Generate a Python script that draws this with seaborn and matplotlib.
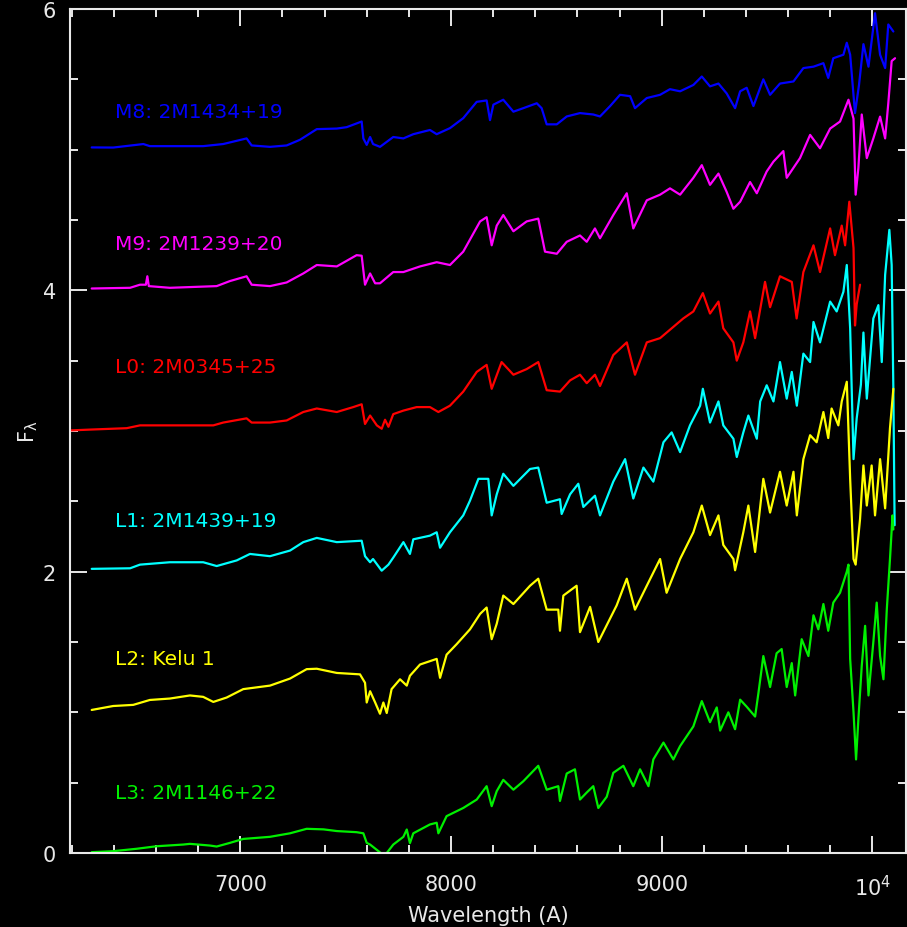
import numpy as np
import pandas as pd
import matplotlib
matplotlib.use("Agg")
import matplotlib.pyplot as plt
import seaborn as sns
from matplotlib.ticker import MultipleLocator, FixedLocator, FixedFormatter

# ---------------- data ----------------
names = ["M8: 2M1434+19", "M9: 2M1239+20", "L0: 2M0345+25",
         "L1: 2M1439+19", "L2: Kelu 1", "L3: 2M1146+22"]
colors = ["#0000ff", "#ff00ff", "#ff0000", "#00ffff", "#ffff00", "#00f000"]
label_y = [5.27, 4.335, 3.46, 2.363, 1.383, 0.429]
label_x = 6405

m8_wave = [6295, 6397, 6540, 6571, 6824, 6919, 7030, 7054, 7141, 7220, 7283, 7363,
           7458, 7505, 7576, 7584, 7600, 7616, 7630, 7663, 7726, 7774, 7821, 7900,
           7932, 7995, 8058, 8122, 8169, 8185, 8201, 8248, 8296, 8343, 8407, 8430,
           8454, 8502, 8549, 8612, 8675, 8707, 8755, 8802, 8850, 8873, 8929, 8992,
           9039, 9087, 9150, 9190, 9229, 9269, 9308, 9348, 9372, 9403, 9435, 9482,
           9514, 9561, 9625, 9672, 9720, 9767, 9790, 9814, 9862, 9878, 9894, 9917,
           9936, 9957, 9981, 10012, 10036, 10060, 10075, 10099]
m8_flux = [5.016, 5.015, 5.04, 5.025, 5.025, 5.04, 5.08, 5.03, 5.02, 5.03, 5.07, 5.146,
           5.15, 5.16, 5.20, 5.08, 5.034, 5.09, 5.04, 5.02, 5.09, 5.08, 5.11, 5.14,
           5.11, 5.153, 5.224, 5.34, 5.35, 5.21, 5.32, 5.355, 5.27, 5.295, 5.33, 5.295,
           5.18, 5.18, 5.236, 5.26, 5.25, 5.236, 5.31, 5.39, 5.38, 5.295, 5.367, 5.39,
           5.43, 5.415, 5.46, 5.52, 5.45, 5.47, 5.40, 5.295, 5.415, 5.44, 5.31, 5.50,
           5.39, 5.47, 5.485, 5.58, 5.59, 5.615, 5.51, 5.65, 5.675, 5.76, 5.675, 5.26,
           5.46, 5.75, 5.59, 5.97, 5.675, 5.58, 5.89, 5.84]

m9_wave = [6295, 6477, 6524, 6552, 6559, 6566, 6666, 6888, 6951, 7030, 7054, 7141,
           7220, 7299, 7363, 7458, 7552, 7576, 7592, 7616, 7640, 7663, 7726, 7774,
           7853, 7932, 7995, 8058, 8138, 8169, 8193, 8217, 8248, 8296, 8359, 8414,
           8446, 8502, 8549, 8612, 8644, 8683, 8707, 8770, 8834, 8865, 8929, 8992,
           9039, 9087, 9150, 9190, 9229, 9269, 9308, 9340, 9372, 9419, 9451, 9498,
           9530, 9577, 9593, 9656, 9704, 9751, 9799, 9846, 9886, 9910, 9920, 9933,
           9949, 9973, 10004, 10036, 10060, 10075, 10091, 10107]
m9_flux = [4.013, 4.018, 4.04, 4.04, 4.10, 4.03, 4.018, 4.03, 4.066, 4.10, 4.04, 4.03,
           4.056, 4.12, 4.18, 4.17, 4.25, 4.246, 4.04, 4.12, 4.05, 4.05, 4.13, 4.13,
           4.17, 4.20, 4.18, 4.275, 4.49, 4.52, 4.32, 4.46, 4.535, 4.42, 4.49, 4.51,
           4.275, 4.26, 4.345, 4.39, 4.345, 4.44, 4.37, 4.535, 4.69, 4.44, 4.64, 4.68,
           4.725, 4.68, 4.80, 4.89, 4.75, 4.83, 4.70, 4.58, 4.63, 4.77, 4.69, 4.845,
           4.915, 4.99, 4.80, 4.94, 5.105, 5.01, 5.15, 5.20, 5.355, 5.22, 4.68, 4.87,
           5.25, 4.94, 5.08, 5.235, 5.08, 5.33, 5.63, 5.65]

l0_wave = [6192, 6287, 6461, 6524, 6872, 6919, 7030, 7054, 7141, 7220, 7299, 7363,
           7458, 7536, 7576, 7592, 7616, 7648, 7671, 7687, 7703, 7726, 7774, 7837,
           7900, 7940, 7995, 8058, 8122, 8169, 8193, 8240, 8296, 8359, 8414, 8454,
           8517, 8565, 8612, 8644, 8683, 8707, 8770, 8834, 8873, 8929, 8992, 9047,
           9102, 9150, 9195, 9229, 9269, 9292, 9340, 9356, 9387, 9419, 9443, 9490,
           9514, 9561, 9617, 9640, 9672, 9720, 9751, 9799, 9822, 9854, 9870, 9890,
           9910, 9917, 9925, 9941]
l0_flux = [3.004, 3.01, 3.02, 3.04, 3.04, 3.06, 3.09, 3.06, 3.06, 3.075, 3.135, 3.16,
           3.135, 3.17, 3.19, 3.05, 3.11, 3.04, 3.016, 3.08, 3.03, 3.12, 3.145, 3.17,
           3.17, 3.135, 3.18, 3.28, 3.42, 3.47, 3.30, 3.49, 3.40, 3.44, 3.49, 3.29,
           3.28, 3.36, 3.40, 3.34, 3.40, 3.32, 3.54, 3.63, 3.40, 3.63, 3.66, 3.73,
           3.80, 3.85, 3.98, 3.835, 3.92, 3.73, 3.63, 3.50, 3.63, 3.85, 3.66, 4.06,
           3.88, 4.10, 4.06, 3.80, 4.13, 4.32, 4.13, 4.44, 4.25, 4.46, 4.32, 4.63,
           4.30, 3.75, 3.90, 4.04]

l1_wave = [6295, 6477, 6524, 6666, 6824, 6888, 6983, 7046, 7141, 7236, 7299, 7363,
           7458, 7576, 7592, 7616, 7630, 7671, 7703, 7726, 7774, 7805, 7821, 7900,
           7932, 7948, 7995, 8058, 8090, 8130, 8177, 8193, 8217, 8248, 8296, 8375,
           8414, 8454, 8517, 8525, 8565, 8604, 8628, 8683, 8707, 8770, 8826, 8865,
           8913, 8960, 9008, 9047, 9087, 9134, 9182, 9195, 9229, 9269, 9292, 9340,
           9356, 9387, 9411, 9451, 9467, 9498, 9530, 9561, 9593, 9617, 9641, 9672,
           9704, 9720, 9751, 9799, 9830, 9862, 9878, 9894, 9910, 9925, 9945, 9957,
           9973, 10004, 10028, 10044, 10060, 10080, 10091, 10099, 10105]
l1_flux = [2.02, 2.024, 2.05, 2.067, 2.067, 2.04, 2.08, 2.126, 2.11, 2.15, 2.21, 2.24,
           2.21, 2.22, 2.11, 2.067, 2.09, 2.007, 2.05, 2.10, 2.21, 2.126, 2.23, 2.256,
           2.28, 2.17, 2.28, 2.40, 2.505, 2.66, 2.66, 2.40, 2.55, 2.696, 2.61, 2.73,
           2.74, 2.49, 2.515, 2.41, 2.55, 2.625, 2.46, 2.54, 2.40, 2.64, 2.80, 2.52,
           2.74, 2.64, 2.92, 2.99, 2.85, 3.04, 3.18, 3.30, 3.06, 3.21, 3.04, 2.945,
           2.815, 2.99, 3.11, 2.945, 3.21, 3.325, 3.21, 3.49, 3.23, 3.42, 3.18, 3.55,
           3.49, 3.775, 3.63, 3.92, 3.85, 3.99, 4.18, 3.73, 2.80, 3.09, 3.33, 3.70,
           3.23, 3.80, 3.895, 3.49, 4.11, 4.43, 4.18, 3.30, 2.33]

l2_wave = [6295, 6397, 6492, 6571, 6666, 6761, 6824, 6872, 6935, 7014, 7141, 7236,
           7315, 7363, 7458, 7568, 7592, 7600, 7616, 7640, 7663, 7679, 7695, 7718,
           7758, 7790, 7805, 7853, 7932, 7948, 7979, 8027, 8090, 8138, 8169, 8193,
           8217, 8248, 8296, 8375, 8414, 8454, 8509, 8517, 8533, 8596, 8612, 8660,
           8699, 8739, 8786, 8834, 8873, 8929, 8992, 9023, 9087, 9150, 9190, 9229,
           9269, 9292, 9340, 9348, 9387, 9411, 9443, 9482, 9514, 9561, 9593, 9625,
           9641, 9672, 9704, 9735, 9767, 9790, 9806, 9838, 9854, 9878, 9894, 9910,
           9920, 9941, 9957, 9973, 9996, 10012, 10036, 10060, 10083, 10099]
l2_flux = [1.017, 1.045, 1.053, 1.088, 1.098, 1.12, 1.11, 1.074, 1.105, 1.165, 1.19, 1.24,
           1.307, 1.31, 1.28, 1.27, 1.21, 1.07, 1.15, 1.07, 0.99, 1.07, 0.995, 1.165,
           1.235, 1.19, 1.26, 1.34, 1.38, 1.245, 1.41, 1.485, 1.59, 1.70, 1.745, 1.52,
           1.63, 1.83, 1.77, 1.90, 1.95, 1.73, 1.73, 1.58, 1.83, 1.90, 1.57, 1.75,
           1.50, 1.62, 1.76, 1.95, 1.73, 1.90, 2.09, 1.85, 2.09, 2.28, 2.47, 2.26,
           2.40, 2.19, 2.09, 2.01, 2.28, 2.47, 2.14, 2.66, 2.42, 2.71, 2.47, 2.71,
           2.40, 2.80, 2.97, 2.92, 3.135, 2.95, 3.16, 3.04, 3.21, 3.35, 2.66, 2.09,
           2.05, 2.375, 2.755, 2.47, 2.755, 2.40, 2.80, 2.45, 3.02, 3.30]

l3_wave = [6295, 6397, 6508, 6603, 6729, 6761, 6856, 6888, 6951, 7014, 7141, 7236,
           7315, 7395, 7458, 7552, 7584, 7600, 7616, 7671, 7695, 7726, 7774, 7790,
           7805, 7821, 7900, 7932, 7940, 7979, 8058, 8122, 8169, 8193, 8217, 8248,
           8296, 8343, 8414, 8454, 8509, 8517, 8549, 8588, 8612, 8644, 8675, 8699,
           8739, 8770, 8818, 8865, 8897, 8937, 8960, 9008, 9055, 9087, 9150, 9190,
           9229, 9261, 9277, 9316, 9348, 9372, 9403, 9443, 9459, 9482, 9514, 9545,
           9569, 9593, 9617, 9633, 9664, 9696, 9720, 9743, 9767, 9790, 9814, 9846,
           9878, 9886, 9894, 9910, 9922, 9933, 9949, 9965, 9981, 10004, 10020, 10036,
           10052, 10068, 10083, 10095, 10099]
l3_flux = [0.006, 0.013, 0.03, 0.048, 0.06, 0.065, 0.053, 0.046, 0.072, 0.10, 0.115, 0.14,
           0.172, 0.168, 0.156, 0.148, 0.14, 0.072, 0.06, -0.005, 0.0, 0.06, 0.115, 0.167,
           0.07, 0.14, 0.203, 0.215, 0.14, 0.262, 0.32, 0.38, 0.475, 0.333, 0.44, 0.52,
           0.45, 0.51, 0.62, 0.45, 0.475, 0.37, 0.565, 0.595, 0.38, 0.43, 0.475, 0.32,
           0.40, 0.57, 0.62, 0.475, 0.595, 0.475, 0.665, 0.785, 0.665, 0.76, 0.90, 1.08,
           0.93, 1.035, 0.87, 1.00, 0.88, 1.09, 1.04, 0.97, 1.14, 1.40, 1.18, 1.42,
           1.45, 1.18, 1.35, 1.12, 1.52, 1.40, 1.69, 1.59, 1.77, 1.58, 1.78, 1.85,
           2.00, 2.05, 1.38, 1.00, 0.665, 0.95, 1.33, 1.615, 1.12, 1.50, 1.78, 1.40,
           1.235, 1.735, 2.09, 2.40, 2.30]

xticks_major = [7000, 8000, 9000, 10000]
xtick_labels = ["7000", "8000", "9000", r"$\mathregular{10^4}$"]
yticks_major = [0, 2, 4, 6]
ytick_labels = ["0", "2", "4", "6"]

waves = [m8_wave, m9_wave, l0_wave, l1_wave, l2_wave, l3_wave]
fluxes = [m8_flux, m9_flux, l0_flux, l1_flux, l2_flux, l3_flux]

df = pd.concat(
    [pd.DataFrame({"wave": w, "flux": f, "star": n}) for n, w, f in zip(names, waves, fluxes)],
    ignore_index=True)

# ---------------- style ----------------
sns.set_style("ticks")
fg = "#e8e8e8"
plt.rcParams.update({
    "font.family": ["DejaVu Sans"],
    "figure.facecolor": "black",
    "axes.facecolor": "black",
    "axes.edgecolor": fg,
    "axes.labelcolor": fg,
    "xtick.color": fg,
    "ytick.color": fg,
    "text.color": fg,
})

fig = plt.figure(figsize=(9.07, 9.28), dpi=100)
ax = fig.add_axes([70 / 907, 74 / 928, 836 / 907, 844 / 928])

sns.lineplot(data=df, x="wave", y="flux", hue="star", hue_order=names,
             palette=dict(zip(names, colors)), estimator=None, sort=False,
             legend=False, linewidth=1.6, ax=ax)

for n, c, yv in zip(names, colors, label_y):
    ax.text(label_x, yv, n, color=c, fontsize=14.5, ha="left", va="center")

ax.set_xlim(6192, 10159)
ax.set_ylim(0, 6)

ax.xaxis.set_major_locator(FixedLocator(xticks_major))
ax.xaxis.set_major_formatter(FixedFormatter(xtick_labels))
ax.xaxis.set_minor_locator(MultipleLocator(200))
ax.yaxis.set_major_locator(FixedLocator(yticks_major))
ax.yaxis.set_major_formatter(FixedFormatter(ytick_labels))
ax.yaxis.set_minor_locator(MultipleLocator(0.5))

ax.tick_params(which="both", direction="in", top=True, right=True, color=fg, width=1.4)
ax.tick_params(which="major", length=12, labelsize=15)
ax.tick_params(which="minor", length=6)
ax.tick_params(axis="x", which="major", pad=15)
ax.tick_params(axis="y", which="major", pad=10)

for s in ax.spines.values():
    s.set_color(fg)
    s.set_linewidth(1.5)

ax.set_xlabel("Wavelength (A)", fontsize=15, labelpad=4, color=fg)
ax.set_ylabel(r"$\mathregular{F_\lambda}$", fontsize=15, labelpad=2, color=fg)

fig.savefig("out.png", dpi=100, facecolor="black")
